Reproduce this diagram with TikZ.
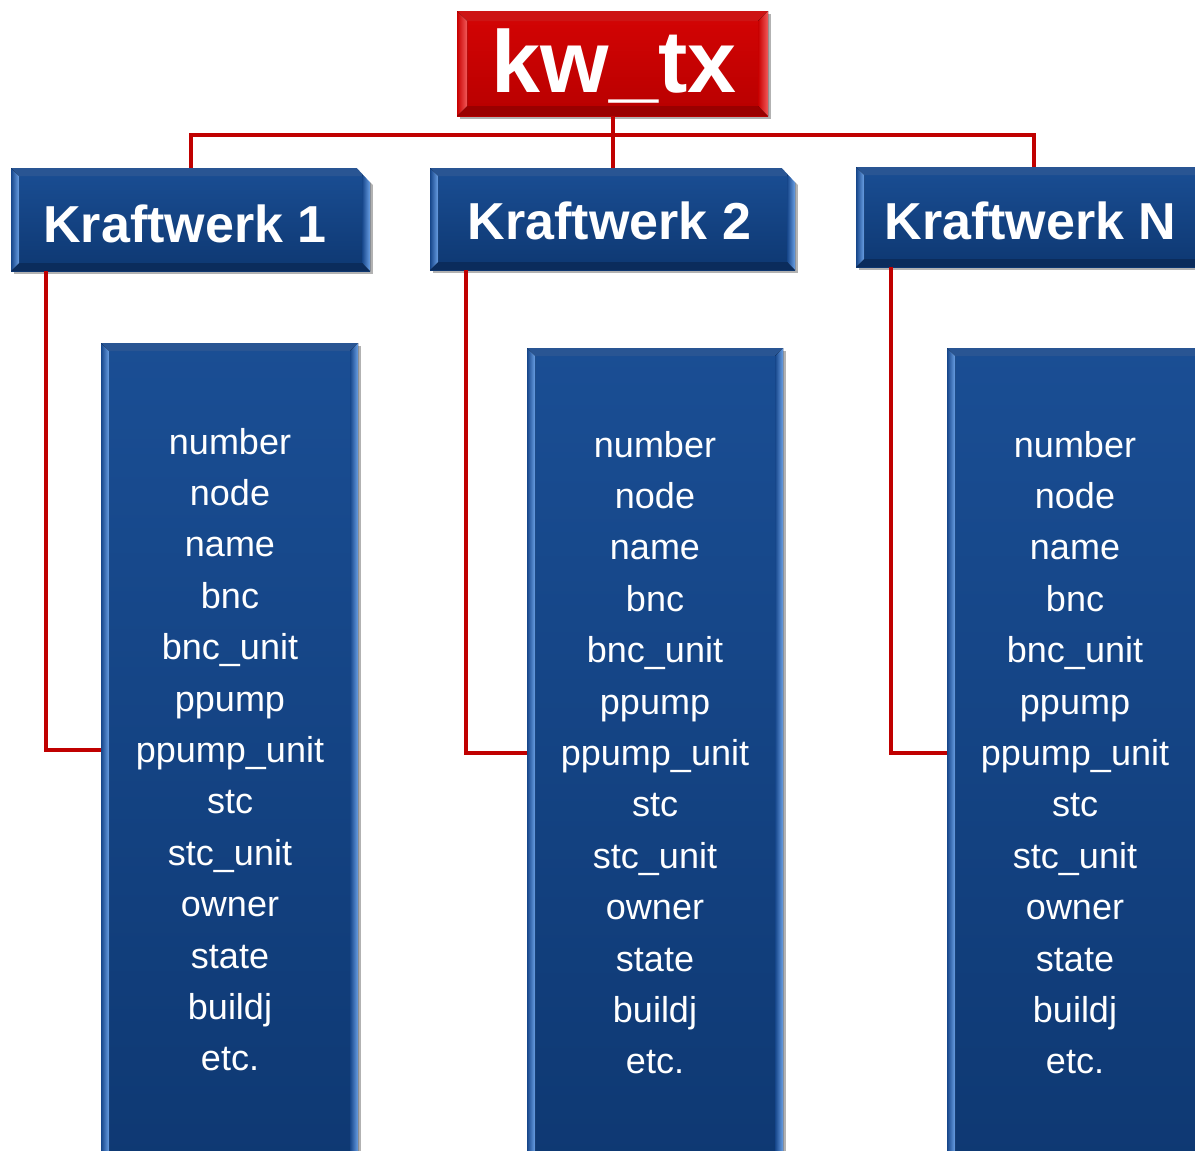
\documentclass[tikz,border=0pt]{standalone}
\usepackage{fontspec}
\setmainfont{Liberation Sans}
\usetikzlibrary{calc,shadows}

\definecolor{linkred}{HTML}{C00000}
\definecolor{redtop}{HTML}{D40404}
\definecolor{redbot}{HTML}{B80000}
\definecolor{redhi}{HTML}{F25A5A}
\definecolor{redmid}{HTML}{C80000}
\definecolor{redsh}{HTML}{9A0000}
\definecolor{bluetop}{HTML}{1A4E94}
\definecolor{bluebot}{HTML}{0E3872}
\definecolor{bluehi}{HTML}{6A9FE4}
\definecolor{bluemid}{HTML}{16468A}
\definecolor{bluesh}{HTML}{0B2C5C}

% bevelled frame painted inside the current node: #1 highlight, #2 body, #3 shade, #4 width
\newcommand\bevelpaint[4]{%
  \path (path picture bounding box.north west) coordinate (bvA)
        (path picture bounding box.north east) coordinate (bvB)
        (path picture bounding box.south east) coordinate (bvC)
        (path picture bounding box.south west) coordinate (bvD);
  \fill[#2!92!white] (bvA) -- (bvB) -- ($(bvB)+(-#4,#4)$) -- ($(bvA)+(#4,#4)$) -- cycle;
  \fill[#3] (bvD) -- (bvC) -- ($(bvC)+(-#4,-#4)$) -- ($(bvD)+(#4,-#4)$) -- cycle;
  \fill[left color=#2, right color=#1] (bvA) -- ($(bvA)+(#4,#4)$) -- ($(bvD)+(#4,-#4)$) -- (bvD) -- cycle;
  \fill[left color=#2, right color=#1] (bvB) -- ($(bvB)+(-#4,#4)$) -- ($(bvC)+(-#4,-#4)$) -- (bvC) -- cycle;
}

% clip the top-right corner of a header box
\newcommand\cutcorner[1]{%
  \fill[white] ($(#1.north east)+(-14,-1)$) -- ($(#1.north east)+(6,-1)$)
    -- ($(#1.north east)+(6,20)$) -- ($(#1.north east)+(0,14)$) -- cycle;
}

\tikzset{
  plainbox/.style={rectangle, inner sep=0pt, outer sep=0pt},
  redbox/.style={plainbox, top color=redtop, bottom color=redbot,
    drop shadow={shadow xshift=3pt, shadow yshift=-3pt, fill=black, opacity=.3},
    path picture={\bevelpaint{redhi}{redmid}{redsh}{10}}},
  bluebox/.style={plainbox, top color=bluetop, bottom color=bluebot,
    drop shadow={shadow xshift=3pt, shadow yshift=-3pt, fill=black, opacity=.3},
    path picture={\bevelpaint{bluehi}{bluemid}{bluesh}{8}}},
  headtext/.style={text=white, font=\fontsize{52}{52}\selectfont\bfseries, inner sep=0pt, anchor=base},
  toptext/.style={text=white, font=\fontsize{88}{88}\selectfont\bfseries, inner sep=0pt, anchor=base},
  field/.style={text=white, font=\fontsize{36}{36}\selectfont, inner sep=0pt,
    text height=27pt, text depth=9pt, anchor=base},
  link/.style={draw=linkred, line width=4pt},
}

\begin{document}
\begin{tikzpicture}[x=1pt, y=-1pt]
\useasboundingbox (0,0) rectangle (1195,1151);
\clip (0,0) rectangle (1195,1151);
\fill[white] (0,0) rectangle (1195,1151);

% root box
\node[redbox, minimum width=311pt, minimum height=105pt] (top) at (612.5,63.5) {};
\node[toptext] (toplbl) at (614,92) {kw\_tx};

% power plant headers
\node[bluebox, minimum width=359pt, minimum height=103pt] (k1) at (190.5,219.5) {};
\node[bluebox, minimum width=365pt, minimum height=102pt] (k2) at (612.5,219) {};
\node[bluebox, minimum width=356pt, minimum height=100pt] (kN) at (1034,217) {};
\cutcorner{k1}
\cutcorner{k2}
\node[headtext] (k1lbl) at (185,242) {Kraftwerk 1};
\node[headtext] (k2lbl) at (609.5,239) {Kraftwerk 2};
\node[headtext] (kNlbl) at (1030.5,239) {Kraftwerk N};

% attribute columns
\node[bluebox, minimum width=257pt, minimum height=837pt] (c1) at (229.5,761.5) {};
\node[bluebox, minimum width=256pt, minimum height=832pt] (c2) at (655,764) {};
\node[bluebox, minimum width=256pt, minimum height=832pt] (cN) at (1075,764) {};

\foreach \col/\cx/\by in {c1/230/454, c2/655/457, cN/1075/457}{
  \foreach \lbl [count=\i] in {number,node,name,bnc,bnc\_unit,ppump,ppump\_unit,stc,stc\_unit,owner,state,buildj,etc.}{
    \node[field] (\col-\i) at (\cx,{\by+51.4*(\i-1)}) {\lbl};
  }
}

% tree connectors
\coordinate (bus) at (612.5,135);
\draw[link] (top.south) -- (k2.north);
\draw[link] (k1.north) |- (bus) -| (kN.north);
\draw[link] ([xshift=35pt]k1.south west) |- ([yshift=3pt]c1.west |- c1-7);
\draw[link] ([xshift=36pt]k2.south west) |- ([yshift=3pt]c2.west |- c2-7);
\draw[link] ([xshift=35pt]kN.south west) |- ([yshift=3pt]cN.west |- cN-7);
\end{tikzpicture}
\end{document}
